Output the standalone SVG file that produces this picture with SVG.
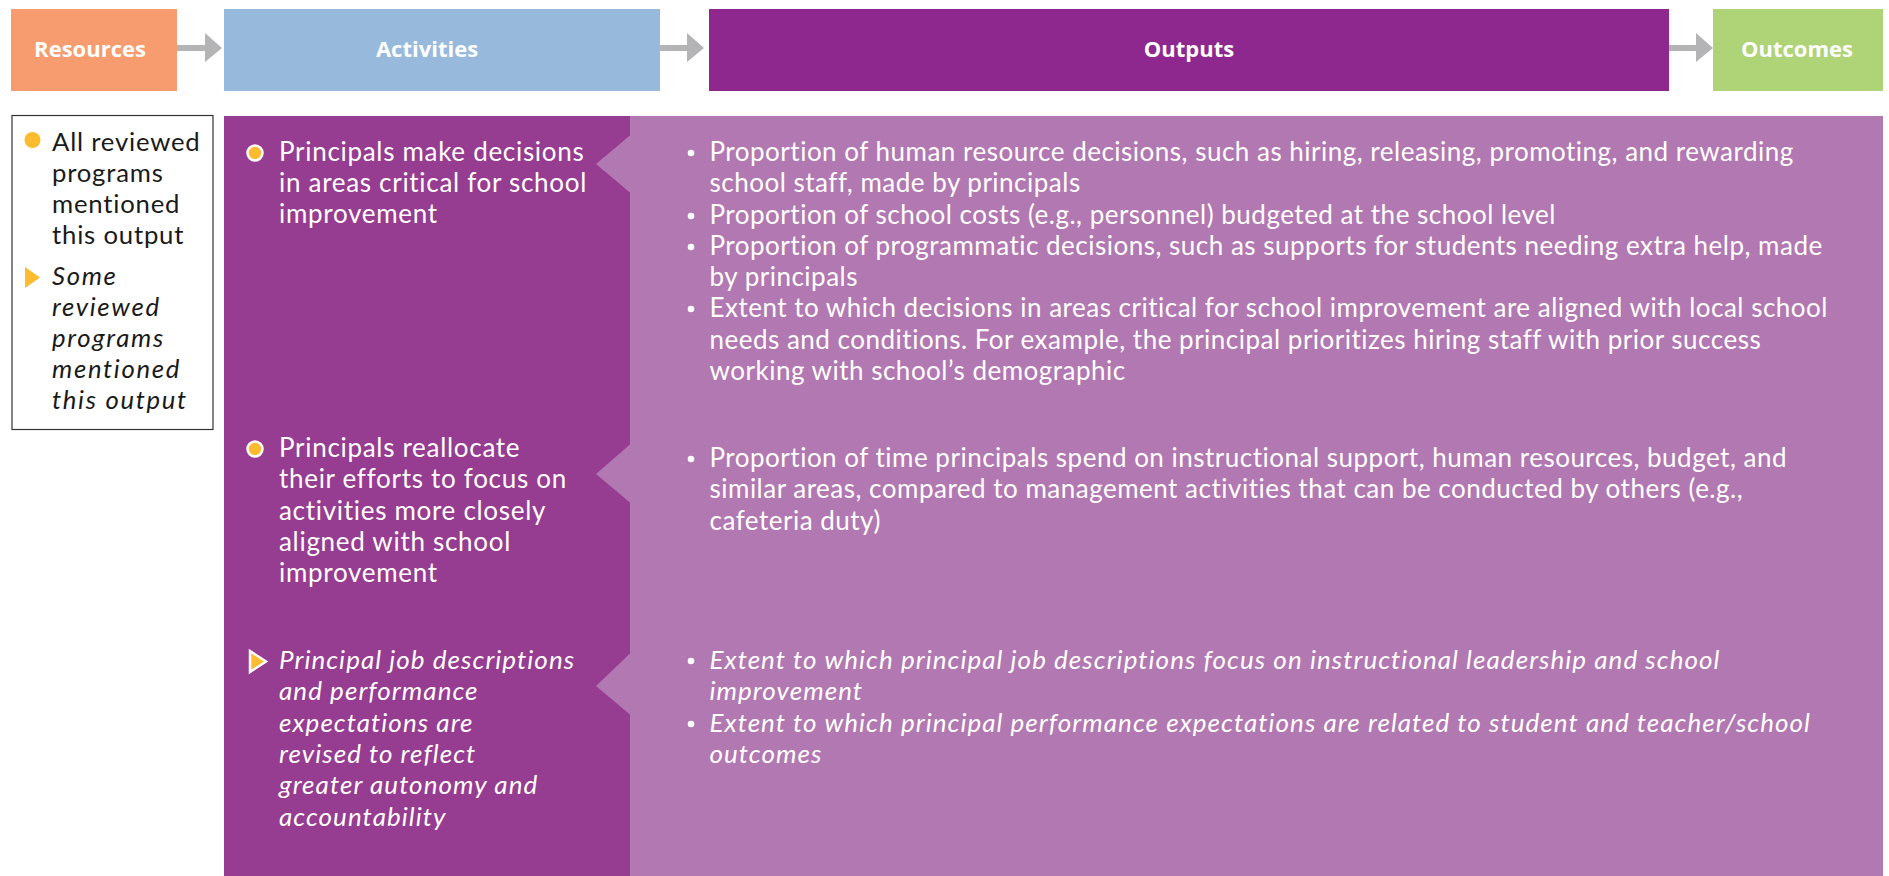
<svg xmlns="http://www.w3.org/2000/svg" width="1889" height="876" viewBox="0 0 1889 876">
<style>
.hd{font-family:"Open Sans","Noto Sans",sans-serif;font-weight:bold;font-size:22px;fill:#fff;text-anchor:middle}
.t,.ti,.lg,.lgi{font-family:Lato,"Open Sans",sans-serif;font-variant-ligatures:none;font-feature-settings:"liga" 0,"clig" 0}
.t{font-size:26px;fill:#fff;letter-spacing:0.5px}
.ta{letter-spacing:0.7px}
.ti{font-size:26px;fill:#fff;font-style:italic;letter-spacing:1.05px}
.lg{font-size:25.7px;fill:#1a1a1a;letter-spacing:0.8px}
.lgi{font-size:25.7px;fill:#1a1a1a;font-style:italic;letter-spacing:1.7px}
.arr{fill:#b4b4b6}
.yel{fill:#fdbb30}
.yelw{fill:#fdbb30;stroke:#fff;stroke-width:2.5}
.dot{fill:#fff}
</style>
<rect width="1889" height="876" fill="#fff"/>
<g id="connectors">
<polygon class="arr" points="177,45 205,45 205,33 222,48 205,62 205,51 177,51"/>
<polygon class="arr" points="660,45 687,45 687,33 704,48 687,62 687,51 660,51"/>
<polygon class="arr" points="1669,45 1696,45 1696,33 1713,48 1696,62 1696,51 1669,51"/>
</g>
<g id="resources">
<rect x="11" y="9" width="166" height="82" fill="#f79c6f"/>
<text class="hd" x="90" y="57">Resources</text>
</g>
<g id="activities-header">
<rect x="224" y="9" width="436" height="82" fill="#97badc"/>
<text class="hd" x="427" y="57">Activities</text>
</g>
<g id="outputs-header">
<rect x="709" y="9" width="960" height="82" fill="#8e278e"/>
<text class="hd" x="1189" y="57">Outputs</text>
</g>
<g id="outcomes">
<rect x="1713" y="9" width="170" height="82" fill="#afd377"/>
<text class="hd" x="1797" y="57">Outcomes</text>
</g>
<g id="legend">
<rect x="12" y="115.5" width="201" height="314" fill="#fff" stroke="#333" stroke-width="1.2"/>
<circle class="yel" cx="32.5" cy="140" r="8"/>
<text class="lg" x="52" y="151"><tspan x="52">All reviewed</tspan><tspan x="52" dy="31">programs</tspan><tspan x="52" dy="31">mentioned</tspan><tspan x="52" dy="31">this output</tspan></text>
<polygon class="yel" points="25,267 40,277.5 25,288"/>
<text class="lgi" x="52" y="285"><tspan x="52">Some</tspan><tspan x="52" dy="31">reviewed</tspan><tspan x="52" dy="31">programs</tspan><tspan x="52" dy="31">mentioned</tspan><tspan x="52" dy="31">this output</tspan></text>
</g>
<g id="panels">
<rect x="224" y="116" width="406" height="760" fill="#963c91"/>
<rect x="630" y="116" width="1253" height="760" fill="#b278b2"/>
<polygon fill="#b278b2" points="630.5,135 596,164 630.5,193"/>
<polygon fill="#b278b2" points="630.5,444 596,474 630.5,503"/>
<polygon fill="#b278b2" points="630.5,653 596,686 630.5,715"/>
</g>
<g id="activity1">
<circle class="yelw" cx="255" cy="153" r="7.5"/>
<text class="t ta" x="279" y="161"><tspan x="279">Principals make decisions</tspan><tspan x="279" dy="31">in areas critical for school</tspan><tspan x="279" dy="31">improvement</tspan></text>
</g>
<g id="activity2">
<circle class="yelw" cx="255" cy="449" r="7.5"/>
<text class="t ta" x="279" y="457"><tspan x="279">Principals reallocate</tspan><tspan x="279" dy="31.3">their efforts to focus on</tspan><tspan x="279" dy="31.3">activities more closely</tspan><tspan x="279" dy="31.3">aligned with school</tspan><tspan x="279" dy="31.3">improvement</tspan></text>
</g>
<g id="activity3">
<polygon class="yelw" points="250,651 266,661.5 250,672"/>
<text class="ti" x="279" y="669"><tspan x="279">Principal job descriptions</tspan><tspan x="279" dy="31.3">and performance</tspan><tspan x="279" dy="31.3">expectations are</tspan><tspan x="279" dy="31.3">revised to reflect</tspan><tspan x="279" dy="31.3">greater autonomy and</tspan><tspan x="279" dy="31.3">accountability</tspan></text>
</g>
<g id="output1">
<circle class="dot" cx="691" cy="153" r="3.3"/>
<circle class="dot" cx="691" cy="216" r="3.3"/>
<circle class="dot" cx="691" cy="247" r="3.3"/>
<circle class="dot" cx="691" cy="309" r="3.3"/>
<text class="t" x="709.5" y="161"><tspan x="709.5">Proportion of human resource decisions, such as hiring, releasing, promoting, and rewarding</tspan><tspan x="709.5" dy="31.3">school staff, made by principals</tspan><tspan x="709.5" dy="31.3">Proportion of school costs (e.g., personnel) budgeted at the school level</tspan><tspan x="709.5" dy="31.3">Proportion of programmatic decisions, such as supports for students needing extra help, made</tspan><tspan x="709.5" dy="31.3">by principals</tspan><tspan x="709.5" dy="31">Extent to which decisions in areas critical for school improvement are aligned with local school</tspan><tspan x="709.5" dy="31.3">needs and conditions. For example, the principal prioritizes hiring staff with prior success</tspan><tspan x="709.5" dy="31.3">working with school’s demographic</tspan></text>
</g>
<g id="output2">
<circle class="dot" cx="691" cy="459" r="3.3"/>
<text class="t" x="709.5" y="467"><tspan x="709.5">Proportion of time principals spend on instructional support, human resources, budget, and</tspan><tspan x="709.5" dy="31.3">similar areas, compared to management activities that can be conducted by others (e.g.,</tspan><tspan x="709.5" dy="31.3">cafeteria duty)</tspan></text>
</g>
<g id="output3">
<circle class="dot" cx="691" cy="661" r="3.3"/>
<circle class="dot" cx="691" cy="724" r="3.3"/>
<text class="ti" x="709.5" y="669"><tspan x="709.5">Extent to which principal job descriptions focus on instructional leadership and school</tspan><tspan x="709.5" dy="31.3">improvement</tspan><tspan x="709.5" dy="31.3">Extent to which principal performance expectations are related to student and teacher/school</tspan><tspan x="709.5" dy="31.3">outcomes</tspan></text>
</g>
</svg>
